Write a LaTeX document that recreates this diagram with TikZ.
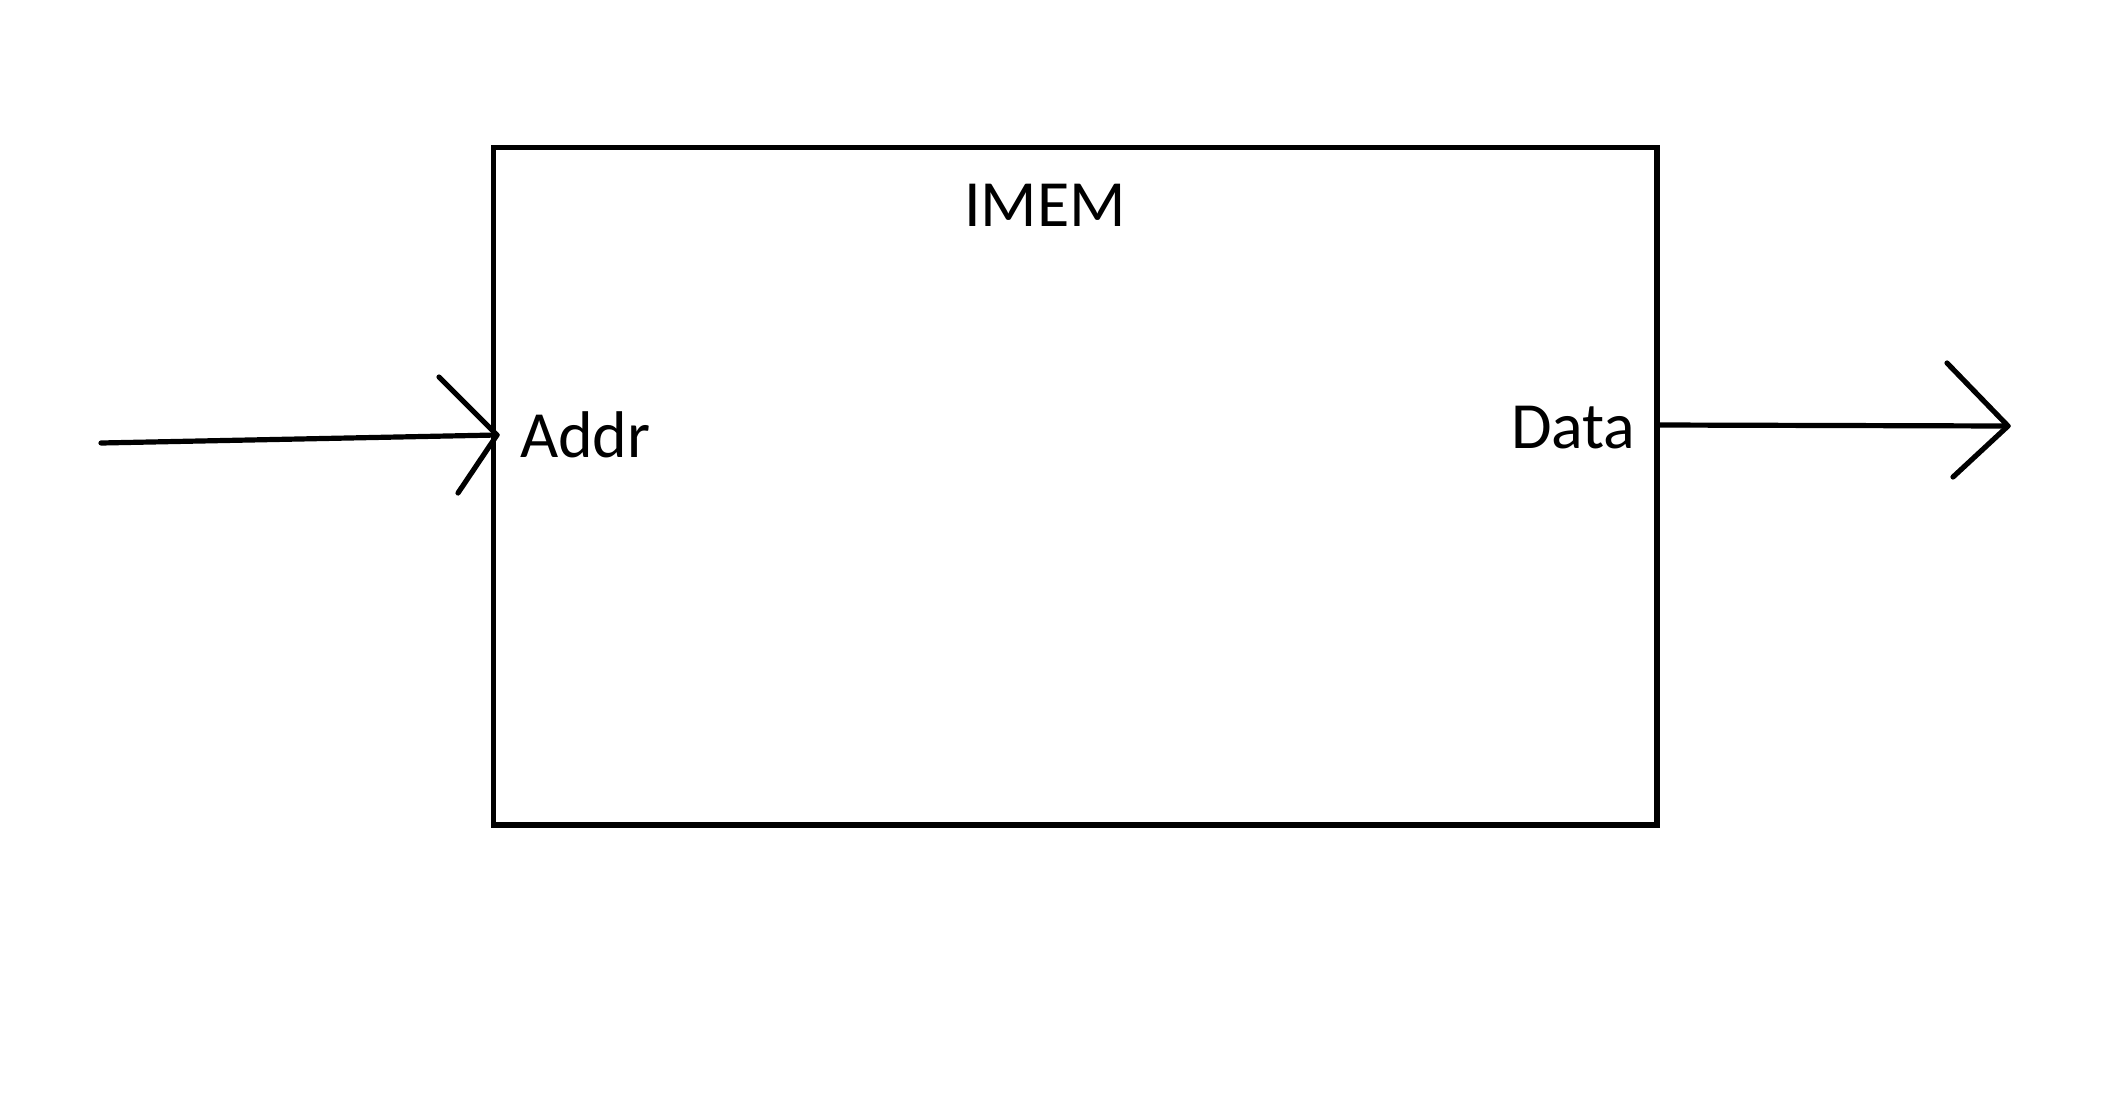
\documentclass[tikz,border=0pt]{standalone}
\usepackage{fontspec}
\setmainfont{Carlito}
\begin{document}
\begin{tikzpicture}[x=0.5pt,y=-0.5pt,
  wire/.style={line width=2.6pt,line cap=round,line join=round},
  blockbox/.style={draw,line width=2.6pt,minimum width=581.75pt,minimum height=338.75pt,inner sep=0pt,outer sep=0pt},
  lbl/.style={inner sep=0pt,outer sep=0pt,font=\fontsize{33}{39}\selectfont}]
\useasboundingbox (0,0) rectangle (2104,1108);
\node[blockbox] (imem) at (1075.25,486.25) {};
\node[lbl,anchor=base] (title) at (1045,226) {IMEM};
\node[lbl,anchor=base west] (addr) at (520,457) {Addr};
\node[lbl,anchor=base west] (data) at (1511,448) {Data};
% input
\coordinate (inA) at (101,443);
\coordinate (inTip) at (497,435);
\coordinate (inH1) at (439,377);
\coordinate (inH2) at (458,493);
\draw[wire] (inA) -- (inTip);
\draw[wire] (inH1) -- (inTip) -- (inH2);
% output
\coordinate (outA) at (imem.east |- 0,425);
\coordinate (outTip) at (2008,426);
\coordinate (outH1) at (1947,363);
\coordinate (outH2) at (1953,477);
\draw[wire] (outA) -- (outTip);
\draw[wire] (outH1) -- (outTip) -- (outH2);
\end{tikzpicture}
\end{document}
